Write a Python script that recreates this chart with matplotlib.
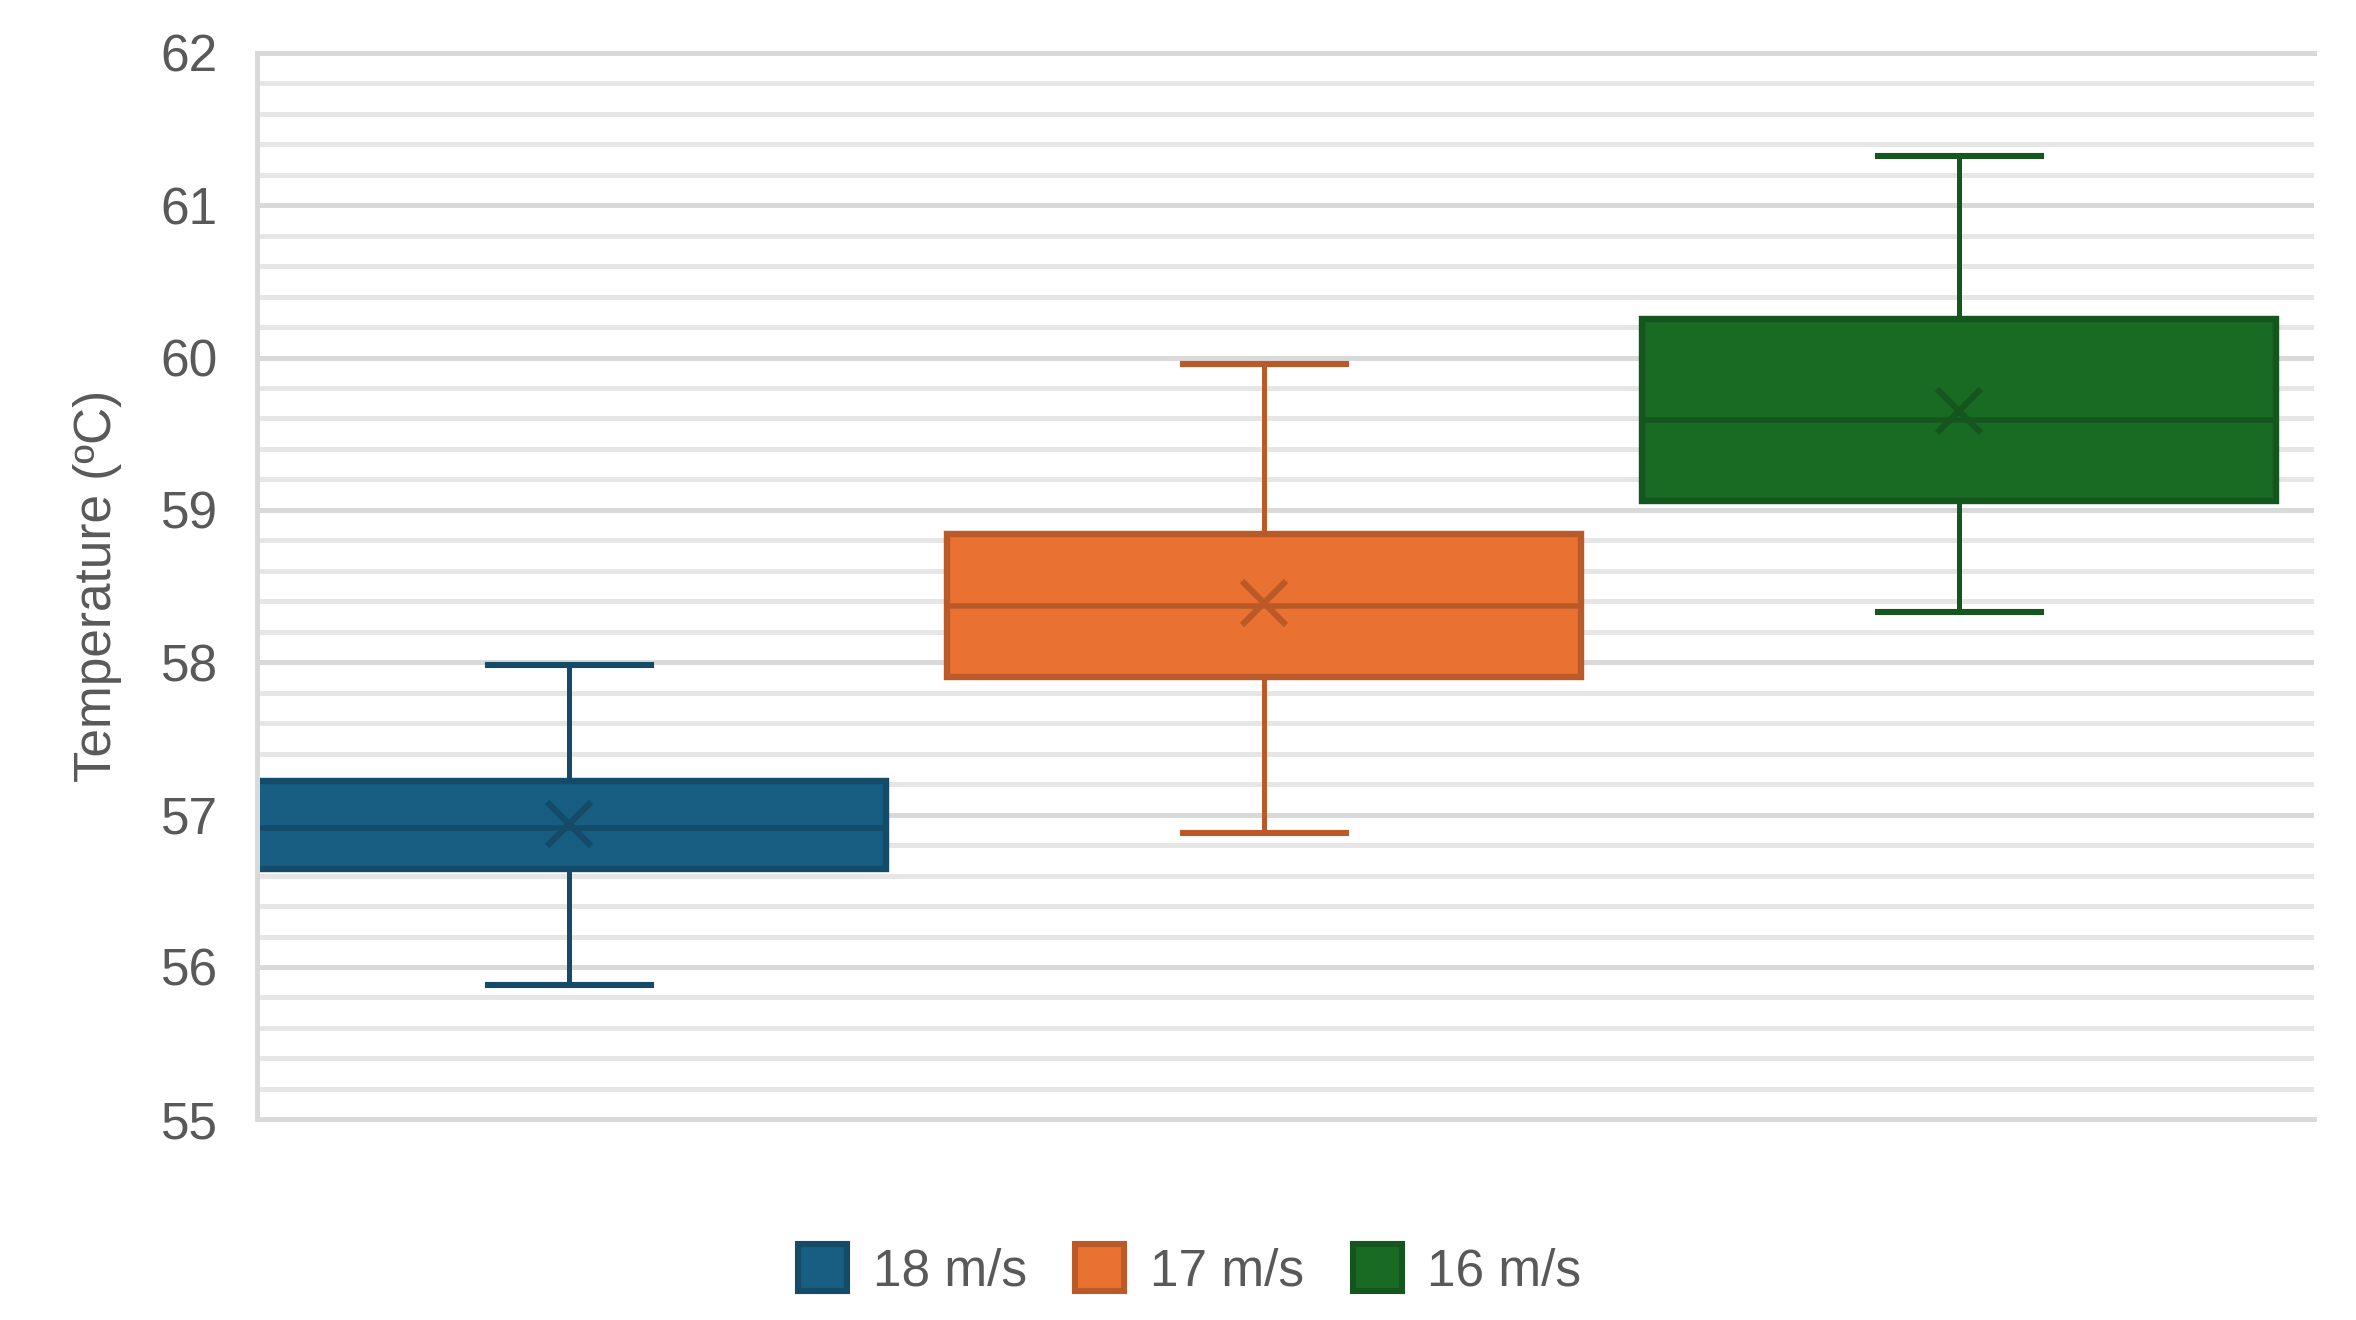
import matplotlib.pyplot as plt
from matplotlib.patches import Patch
from matplotlib.ticker import MultipleLocator

# Box statistics (Temperature, ºC)
labels = ['18 m/s', '17 m/s', '16 m/s']
whis_lo = [55.88, 56.88, 58.33]
q1 = [56.64, 57.90, 59.06]
median = [56.91, 58.37, 59.59]
mean = [56.94, 58.39, 59.65]
q3 = [57.22, 58.84, 60.25]
whis_hi = [57.98, 59.96, 61.32]

fill_colors = ['#175E82', '#E97132', '#196B24']
edge_colors = ['#134B68', '#BA5A28', '#14561D']

plt.rcParams['font.family'] = ['Liberation Sans', 'DejaVu Sans']
TEXT = '#595959'

fig = plt.figure(figsize=(11.78, 6.6), dpi=200)
ax = fig.add_axes([0.109, 0.152, 0.873, 0.808])

for i in range(len(labels)):
    stats = [{'med': median[i], 'q1': q1[i], 'q3': q3[i], 'whislo': whis_lo[i],
              'whishi': whis_hi[i], 'mean': mean[i], 'fliers': []}]
    ec = edge_colors[i]
    ax.bxp(stats, positions=[i], widths=0.912, capwidths=0.234,
           patch_artist=True, showmeans=True,
           boxprops=dict(facecolor=fill_colors[i], edgecolor=ec, linewidth=2.3),
           medianprops=dict(color=ec, linewidth=2.0),
           whiskerprops=dict(color=ec, linewidth=1.8),
           capprops=dict(color=ec, linewidth=2.2),
           meanprops=dict(marker='x', markersize=16, markeredgecolor=ec,
                          markeredgewidth=2.2))

ax.set_xlim(-0.45, 2.51)
ax.set_ylim(55, 62)
ax.yaxis.set_major_locator(MultipleLocator(1))
ax.yaxis.set_minor_locator(MultipleLocator(0.2))
ax.set_xticks([])
ax.set_axisbelow(True)
ax.grid(which='major', axis='y', color='#D9D9D9', linewidth=1.8)
ax.grid(which='minor', axis='y', color='#E6E6E6', linewidth=1.8)
ax.tick_params(axis='y', which='both', length=0, pad=14, labelsize=18.5, labelcolor=TEXT)

for s in ['top', 'bottom', 'left']:
    ax.spines[s].set_color('#D9D9D9')
    ax.spines[s].set_linewidth(1.8)
ax.spines['right'].set_visible(False)

ax.set_ylabel('Temperature (ºC)', fontsize=18.5, color=TEXT, labelpad=14)

handles = [Patch(facecolor=fill_colors[i], edgecolor=edge_colors[i], linewidth=2.2, label=labels[i])
           for i in range(len(labels))]
fig.legend(handles=handles, loc='center', bbox_to_anchor=(0.505, 0.038), ncol=3,
           frameon=False, fontsize=18.5, labelcolor=TEXT, handlelength=0.95, handleheight=1.05,
           handletextpad=0.5, columnspacing=0.95)

fig.savefig('out.png', dpi=200)
